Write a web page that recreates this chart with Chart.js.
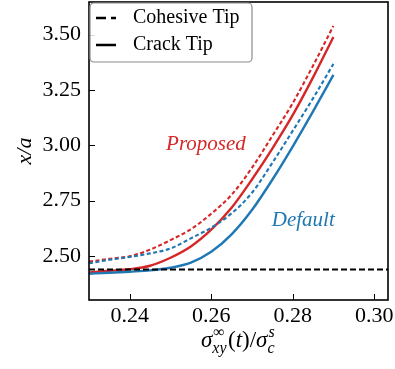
<!DOCTYPE html>
<html>
<head>
<meta charset="utf-8">
<script src="https://cdn.jsdelivr.net/npm/chart.js@4.4.1/dist/chart.umd.min.js"></script>
<style>
  html, body { margin: 0; padding: 0; background: #fff; }
  #wrap { width: 395px; height: 369px; }
</style>
</head>
<body>
<div id="wrap"><canvas id="plot"></canvas></div>
<script>
// applied load sigma_xy / sigma_c
const loadRatio = [0.23, 0.235, 0.24, 0.245, 0.25, 0.255, 0.26, 0.265, 0.27, 0.275, 0.28, 0.285, 0.29];

// tip position x/a for each model
const proposedCohesive = [2.474, 2.486, 2.498, 2.528, 2.571, 2.620, 2.690, 2.776, 2.898, 3.042, 3.190, 3.360, 3.540];
const proposedCrack    = [2.425, 2.432, 2.439, 2.455, 2.491, 2.542, 2.618, 2.717, 2.845, 2.985, 3.136, 3.307, 3.490];
const defaultCohesive  = [2.466, 2.482, 2.495, 2.511, 2.533, 2.579, 2.627, 2.692, 2.785, 2.920, 3.065, 3.212, 3.368];
const defaultCrack     = [2.419, 2.423, 2.428, 2.434, 2.446, 2.469, 2.518, 2.597, 2.707, 2.844, 2.994, 3.153, 3.318];
const initialTip = 2.438;

const xTicks = [0.24, 0.26, 0.28, 0.30];
const yTicks = [2.50, 2.75, 3.00, 3.25, 3.50];

const RED = "#d62728";
const BLUE = "#1f77b4";
const SERIF = '"Liberation Serif", "DejaVu Serif", serif';

const X_MIN = 0.23, X_MAX = 0.3034;
const Y_MIN = 2.30, Y_MAX = 3.648;

function pts(ys) {
  return loadRatio.map((x, i) => ({ x: x, y: ys[i] }));
}

function curve(ys, color, dashed) {
  return {
    data: pts(ys),
    borderColor: color,
    borderWidth: dashed ? 2.1 : 2.4,
    borderDash: dashed ? [4, 2.5] : [],
    pointRadius: 0,
    cubicInterpolationMode: "monotone",
    fill: false,
  };
}

// frame, inward ticks, math x label, text labels and legend box
const decorations = {
  id: "decorations",
  afterDraw(chart) {
    const ctx = chart.ctx;
    const a = chart.chartArea;
    const xs = chart.scales.x, ys = chart.scales.y;
    ctx.save();

    // ticks pointing inwards
    ctx.strokeStyle = "#000";
    ctx.lineWidth = 1;
    ctx.setLineDash([]);
    xTicks.forEach((v) => {
      const px = Math.round(xs.getPixelForValue(v)) + 0.5;
      ctx.beginPath();
      ctx.moveTo(px, a.bottom);
      ctx.lineTo(px, a.bottom - 6);
      ctx.stroke();
    });
    yTicks.forEach((v) => {
      const py = Math.round(ys.getPixelForValue(v)) + 0.5;
      ctx.beginPath();
      ctx.moveTo(a.left, py);
      ctx.lineTo(a.left + 6, py);
      ctx.stroke();
    });

    // frame
    ctx.lineWidth = 1.6;
    ctx.strokeRect(a.left, a.top, a.right - a.left, a.bottom - a.top);

    // model labels
    ctx.textAlign = "center";
    ctx.textBaseline = "alphabetic";
    ctx.font = "italic 21px " + SERIF;
    ctx.fillStyle = RED;
    ctx.fillText("Proposed", xs.getPixelForValue(0.2587), ys.getPixelForValue(2.979));
    ctx.fillStyle = BLUE;
    ctx.fillText("Default", xs.getPixelForValue(0.2826), ys.getPixelForValue(2.636));

    // x axis label: sigma^inf_xy(t) / sigma^s_c
    const big = "23px " + SERIF, bigIt = "italic 23px " + SERIF;
    const smIt = "italic 16px " + SERIF, sm = "16px " + SERIF;
    const runs = [
      { t: "σ", f: bigIt },
      { sup: "∞", supF: sm, sub: "xy", subF: smIt },
      { t: "(", f: big },
      { t: "t", f: bigIt },
      { t: ")/", f: big },
      { t: "σ", f: bigIt },
      { sup: "s", supF: smIt, sub: "c", subF: smIt },
    ];
    const width = (r) => {
      if (r.t) { ctx.font = r.f; return ctx.measureText(r.t).width; }
      ctx.font = r.supF; const w1 = ctx.measureText(r.sup).width;
      ctx.font = r.subF; const w2 = ctx.measureText(r.sub).width;
      return Math.max(w1, w2) + 1.5;
    };
    const total = runs.reduce((s, r) => s + width(r), 0);
    let cx = (a.left + a.right) / 2 - total / 2;
    const base = 347;
    ctx.fillStyle = "#000";
    ctx.textAlign = "left";
    runs.forEach((r) => {
      const w = width(r);
      if (r.t) {
        ctx.font = r.f;
        ctx.fillText(r.t, cx, base);
      } else {
        ctx.font = r.supF;
        ctx.fillText(r.sup, cx + 1, base - 10);
        ctx.font = r.subF;
        ctx.fillText(r.sub, cx, base + 6);
      }
      cx += w;
    });

    // legend
    const lx = a.left + 1, ly = a.top + 1, lw = 162, lh = 59;
    ctx.beginPath();
    ctx.roundRect(lx, ly, lw, lh, 4);
    ctx.fillStyle = "rgba(255,255,255,0.85)";
    ctx.fill();
    ctx.strokeStyle = "#8c8c8c";
    ctx.lineWidth = 1.2;
    ctx.stroke();

    const entries = [
      { label: "Cohesive Tip", dash: [10, 5], y: ly + 15 },
      { label: "Crack Tip", dash: [], y: ly + 42 },
    ];
    ctx.font = "20px " + SERIF;
    ctx.textBaseline = "middle";
    entries.forEach((e) => {
      ctx.strokeStyle = "#000";
      ctx.lineWidth = 2.5;
      ctx.setLineDash(e.dash);
      ctx.beginPath();
      ctx.moveTo(lx + 6, e.y);
      ctx.lineTo(lx + 26, e.y);
      ctx.stroke();
      ctx.setLineDash([]);
      ctx.fillStyle = "#000";
      ctx.fillText(e.label, lx + 43, e.y);
    });

    ctx.restore();
  },
};

const ctx = document.getElementById("plot").getContext("2d");

new Chart(ctx, {
  type: "line",
  data: {
    datasets: [
      {
        data: [{ x: X_MIN, y: initialTip }, { x: X_MAX, y: initialTip }],
        borderColor: "#000",
        borderWidth: 1.8,
        borderDash: [6, 3],
        pointRadius: 0,
        fill: false,
      },
      curve(defaultCrack, BLUE, false),
      curve(defaultCohesive, BLUE, true),
      curve(proposedCrack, RED, false),
      curve(proposedCohesive, RED, true),
    ],
  },
  options: {
    responsive: true,
    maintainAspectRatio: false,
    animation: false,
    layout: { padding: { left: 0, top: 2, right: 7, bottom: 0 } },
    plugins: {
      legend: { display: false },
      tooltip: { enabled: false },
    },
    scales: {
      x: {
        type: "linear",
        min: X_MIN,
        max: X_MAX,
        afterBuildTicks: (s) => { s.ticks = xTicks.map((v) => ({ value: v })); },
        afterFit: (s) => {
          s.height = 69;
          s.paddingLeft = 0;
          s.paddingRight = 0;
        },
        grid: { display: false },
        border: { display: false },
        ticks: {
          color: "#000",
          font: { family: SERIF, size: 22 },
          padding: -5,
          maxRotation: 0,
          autoSkip: false,
          callback: (v) => Number(v).toFixed(2),
        },
      },
      y: {
        type: "linear",
        min: Y_MIN,
        max: Y_MAX,
        afterBuildTicks: (s) => { s.ticks = yTicks.map((v) => ({ value: v })); },
        afterFit: (s) => {
          s.width = 89;
          s.paddingTop = 0;
          s.paddingBottom = 0;
        },
        grid: { display: false },
        border: { display: false },
        title: {
          display: true,
          text: "x/a",
          color: "#000",
          font: { family: SERIF, size: 22, style: "italic" },
          padding: { top: 12, bottom: 0 },
        },
        ticks: {
          color: "#000",
          font: { family: SERIF, size: 22 },
          padding: 0,
          callback: (v) => Number(v).toFixed(2),
        },
      },
    },
  },
  plugins: [decorations],
});
</script>
</body>
</html>
